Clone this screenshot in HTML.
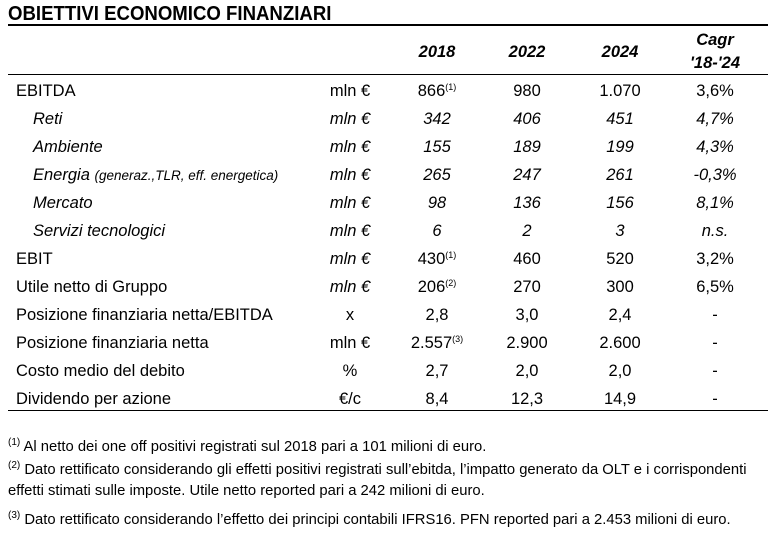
<!DOCTYPE html>
<html><head><meta charset="utf-8"><style>
body{margin:0;width:773px;height:533px;background:#fff;position:relative;overflow:hidden;font-family:"Liberation Sans",sans-serif;color:#000}
.a{position:absolute;white-space:nowrap}
.t{font-size:16.5px;line-height:18px}
.c{transform:translateX(-50%)}
.i{font-style:italic}
.b{font-weight:bold}
sup{font-size:9px;vertical-align:6px;line-height:0}
.f{font-size:14.8px;line-height:21px;left:8px}
.f sup{font-size:10px}
.ln{position:absolute;background:#000;left:8px;width:760px}
</style></head><body>
<div class="a b" style="left:8px;top:3px;font-size:20px;transform:scaleX(0.93);transform-origin:left">OBIETTIVI ECONOMICO FINANZIARI</div>
<div class="ln" style="top:24px;height:2px"></div>
<div class="ln" style="top:74px;height:1px"></div>
<div class="ln" style="top:410px;height:1px"></div>
<div id="tbl"></div>
<div class="a f" style="top:437px"><sup>(1)</sup> Al netto dei one off positivi registrati sul 2018 pari a 101 milioni di euro.</div>
<div class="a f" style="top:460px"><sup>(2)</sup> Dato rettificato considerando gli effetti positivi registrati sull’ebitda, l’impatto generato da OLT e i corrispondenti<br>effetti stimati sulle imposte. Utile netto reported pari a 242 milioni di euro.</div>
<div class="a f" style="top:510px"><sup>(3)</sup> Dato rettificato considerando l’effetto dei principi contabili IFRS16. PFN reported pari a 2.453 milioni di euro.</div>
<script>
const labels=["EBITDA","Reti","Ambiente","Energia","Mercato","Servizi tecnologici","EBIT","Utile netto di Gruppo","Posizione finanziaria netta/EBITDA","Posizione finanziaria netta","Costo medio del debito","Dividendo per azione"];
const units=["mln €","mln €","mln €","mln €","mln €","mln €","mln €","mln €","x","mln €","%","€/c"];
const v2018=["866<sup>(1)</sup>","342","155","265","98","6","430<sup>(1)</sup>","206<sup>(2)</sup>","2,8","2.557<sup>(3)</sup>","2,7","8,4"];
const v2022=["980","406","189","247","136","2","460","270","3,0","2.900","2,0","12,3"];
const v2024=["1.070","451","199","261","156","3","520","300","2,4","2.600","2,0","14,9"];
const cagr=["3,6%","4,7%","4,3%","-0,3%","8,1%","n.s.","3,2%","6,5%","-","-","-","-"];
const sub=[false,true,true,true,true,true,false,false,false,false,false,false];
const itUnit=[false,true,true,true,true,true,true,true,false,false,false,false];
const T=document.getElementById('tbl');
function add(html,x,y,cls,name){const d=document.createElement('div');d.className='a t '+cls;d.style.left=x+'px';d.style.top=y+'px';d.innerHTML=html;


T.appendChild(d);}
add('2018',437,43,'c i b','header-2018');
add('2022',527,43,'c i b','header-2022');
add('2024',620,43,'c i b','header-2024');
add('Cagr',715,31,'c i b','header-cagr');
add("'18-'24",715,54,'c i b','header-cagr-period');
labels.forEach((l,k)=>{const y=82+k*28;
let lab=l; if(k===3) lab='Energia <span style="font-size:13.5px">(generaz.,TLR, eff. energetica)</span>';
add(lab,sub[k]?33:16,y,sub[k]?'i':'','row-label');
add(units[k],350,y,'c'+(itUnit[k]?' i':''),'row-unit');
add(v2018[k],437,y,'c'+(sub[k]?' i':''),'value-2018');
add(v2022[k],527,y,'c'+(sub[k]?' i':''),'value-2022');
add(v2024[k],620,y,'c'+(sub[k]?' i':''),'value-2024');
add(cagr[k],715,y,'c'+(sub[k]?' i':''),'value-cagr');});
</script>
</body></html>
